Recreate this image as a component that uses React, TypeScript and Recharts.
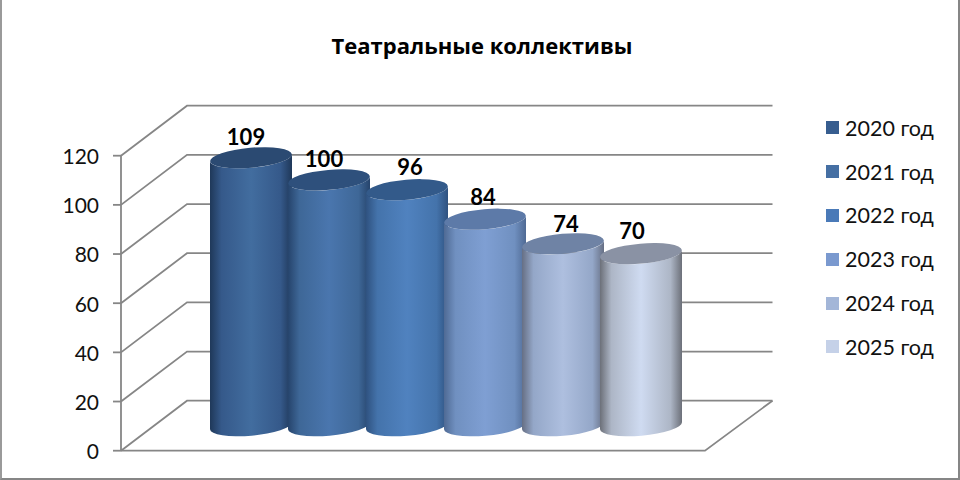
import React from "react";
import { BarChart, Bar, XAxis, YAxis, CartesianGrid, Legend, LabelList } from "recharts";

const chartTitle = "Театральные коллективы";
const category = "Театральные коллективы";
const seriesNames = ["2020 год", "2021 год", "2022 год", "2023 год", "2024 год", "2025 год"];
const seriesValues = [109, 100, 96, 84, 74, 70];
const yTicks = [0, 20, 40, 60, 80, 100, 120];

const legendColors = ["#375d8f", "#456fa3", "#4a7ab8", "#7a99cf", "#a3b6d8", "#c5d1e8"];
const edgeColors = ["#1f3859", "#26446c", "#2f5280", "#4f6a94", "#666f84", "#6c7079"];
const shoulderColors = ["#35598a", "#3e6797", "#4473ab", "#7090c0", "#94a7c8", "#adb6c6"];
const midColors = ["#426d9f", "#4a76ae", "#5082bf", "#7f9fd3", "#aebfdf", "#cfdbf1"];
const topColors = ["#2b4a72", "#2e507c", "#335a8a", "#5d7aa8", "#6f83a5", "#8a92a4"];
const labelNudgeX = [-5, -5, 3, -2, 3, -9];
const labelNudgeY = [1, 1, -1, 0, 2, -1];

const rows = [
  seriesNames.reduce<Record<string, string | number>>(
    (row, name, i) => {
      row[name] = seriesValues[i];
      return row;
    },
    { category }
  ),
];

const GRID = "#868686";
const GRID_WIDTH = 1.8;
const DEPTH_X = 66;
const DEPTH_Y = 50;
const PLOT_LEFT = 121;
const PLOT_RIGHT = 705;
const PLOT_TOP = 155.7;
const PLOT_BOTTOM = 450.7;
const RX = 41;
const RY = 10;
const TILT = -5;
const TILT_Y = 3.5;

const gridLine = (p: any) => {
  const { y1 } = p;
  const isFloor = Math.abs(y1 - PLOT_BOTTOM) < 1;
  return (
    <g key={`wall-${y1}`}>
      <path
        d={`M${PLOT_LEFT},${y1}L${PLOT_LEFT + DEPTH_X},${y1 - DEPTH_Y}L772.5,${y1 - DEPTH_Y}`}
        fill="none"
        stroke={GRID}
        strokeWidth={GRID_WIDTH}
      />
      {isFloor && (
        <path
          d={`M${PLOT_LEFT},${y1}L${PLOT_RIGHT},${y1}L772.5,${y1 - DEPTH_Y}`}
          fill="none"
          stroke={GRID}
          strokeWidth={GRID_WIDTH}
        />
      )}
    </g>
  );
};

const cylinder = (seriesIndex: number) => (p: any) => {
  const cx = p.x + p.width / 2 + DEPTH_X / 2;
  const top = p.y - DEPTH_Y / 2;
  const base = p.y + p.height - DEPTH_Y / 2;
  const l = cx - RX;
  const r = cx + RX;
  const body =
    `M${l},${top + TILT_Y}L${l},${base + TILT_Y}` +
    `A${RX},${RY} ${TILT} 0 0 ${r},${base - TILT_Y}` +
    `L${r},${top - TILT_Y}` +
    `A${RX},${RY} ${TILT} 0 1 ${l},${top + TILT_Y}Z`;
  return (
    <g>
      <path d={body} fill={`url(#cyl-${seriesIndex})`} />
      <ellipse cx={cx} cy={top} rx={RX} ry={RY} transform={`rotate(${TILT} ${cx} ${top})`} fill={topColors[seriesIndex]} />
    </g>
  );
};

const valueLabel = (seriesIndex: number) => (p: any) => {
  const cx = p.x + p.width / 2 + DEPTH_X / 2 + labelNudgeX[seriesIndex];
  const top = p.y - DEPTH_Y / 2;
  return (
    <text
      x={cx}
      y={top - 14 + labelNudgeY[seriesIndex]}
      textAnchor="middle"
      fontFamily="Lato"
      fontWeight={700}
      fontSize={22}
      fill="#000"
    >
      {p.value}
    </text>
  );
};

const legendContent = (props: any) => (
  <div>
    {(props.payload || []).map((entry: any) => (
      <div key={entry.value} style={{ display: "flex", alignItems: "center", height: 43.8 }}>
        <span style={{ display: "block", width: 13, height: 13, background: entry.color, marginRight: 6 }} />
        <span style={{ fontFamily: "Lato", fontSize: 21.5, color: "#111", whiteSpace: "nowrap" }}>{entry.value}</span>
      </div>
    ))}
  </div>
);

export default function App() {
  return (
    <div style={{ position: "absolute", left: 0, top: 0, width: 960, height: 480, background: "#fff" }}>
      <div
        style={{
          position: "absolute",
          left: 0,
          top: 31,
          width: 964,
          textAlign: "center",
          fontFamily: "'Open Sans'",
          fontWeight: 700,
          fontSize: 22,
          lineHeight: "28px",
          color: "#000",
        }}
      >
        {chartTitle}
      </div>
      <BarChart
        width={960}
        height={480}
        data={rows}
        barSize={78}
        barGap={0}
        margin={{ top: PLOT_TOP, left: 61, right: 125, bottom: 480 - PLOT_BOTTOM }}
        style={{ position: "absolute", left: 0, top: 0 }}
      >
        <defs>
          {seriesNames.map((_, i) => (
            <linearGradient key={i} id={`cyl-${i}`} x1="0" y1="0" x2="1" y2="0">
              <stop offset="0" stopColor={edgeColors[i]} />
              <stop offset="0.14" stopColor={shoulderColors[i]} />
              <stop offset="0.5" stopColor={midColors[i]} />
              <stop offset="0.86" stopColor={shoulderColors[i]} />
              <stop offset="1" stopColor={edgeColors[i]} />
            </linearGradient>
          ))}
        </defs>
        <CartesianGrid vertical={false} horizontal={gridLine} />
        <XAxis dataKey="category" hide />
        <YAxis
          width={60}
          domain={[0, 120]}
          ticks={yTicks}
          interval={0}
          tickSize={8}
          tickMargin={14}
          axisLine={{ stroke: GRID, strokeWidth: GRID_WIDTH }}
          tickLine={{ stroke: GRID, strokeWidth: GRID_WIDTH }}
          tick={{ fontFamily: "Lato", fontSize: 21, fill: "#111", dy: 1 }}
        />
        <Legend
          layout="vertical"
          align="right"
          verticalAlign="top"
          width={130}
          content={legendContent}
          wrapperStyle={{ left: 826, top: 106, width: 130 }}
        />
        {seriesNames.map((name, i) => (
          <Bar key={name} dataKey={name} name={name} fill={legendColors[i]} isAnimationActive={false} shape={cylinder(i)}>
            <LabelList dataKey={name} content={valueLabel(i)} />
          </Bar>
        ))}
      </BarChart>
      <div
        style={{
          position: "absolute",
          left: 0,
          top: 0,
          width: 960,
          height: 480,
          boxSizing: "border-box",
          borderRight: "2px solid #868686",
          borderBottom: "2px solid #868686",
          borderLeft: "2px solid #9a9a9a",
          pointerEvents: "none",
        }}
      />
    </div>
  );
}
